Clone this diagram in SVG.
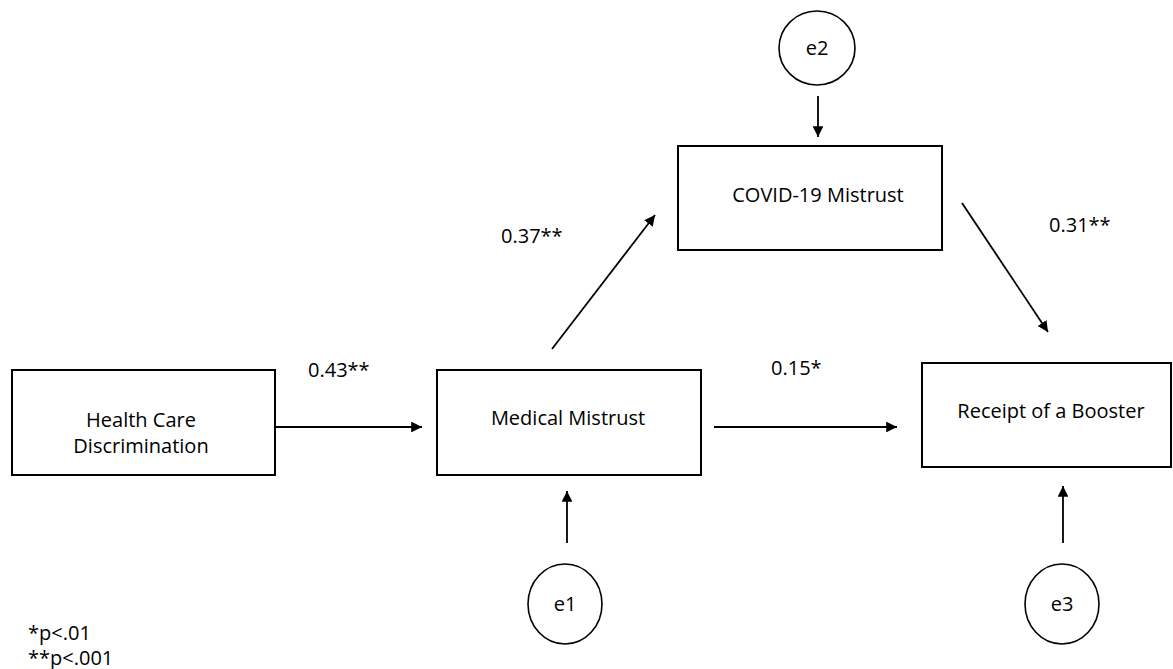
<svg xmlns="http://www.w3.org/2000/svg" width="1173" height="669" viewBox="0 0 1173 669">
  <style>
    .box { fill: #fff; stroke: #000; stroke-width: 2; }
    .err { fill: #fff; stroke: #000; stroke-width: 1.6; }
    .lbl { font-family: "Open Sans", "Liberation Sans", sans-serif; font-size: 20px; fill: #000; }
    .mid { text-anchor: middle; }
    .edge { stroke: #000; stroke-width: 1.8; fill: none; marker-end: url(#head); }
  </style>
  <defs>
    <marker id="head" viewBox="0 0 10 10" refX="10" refY="5" markerWidth="6" markerHeight="6" markerUnits="strokeWidth" orient="auto">
      <path d="M0,0 L10,5 L0,10 Z" fill="#000"/>
    </marker>
  </defs>

  <rect width="1173" height="669" fill="#fff"/>

  <!-- observed variables -->
  <g id="hcd">
    <rect class="box" x="12" y="370" width="263" height="105"/>
    <text class="lbl mid" x="141" y="427">Health Care</text>
    <text class="lbl mid" x="141" y="453">Discrimination</text>
  </g>
  <g id="medical-mistrust">
    <rect class="box" x="437" y="370" width="264" height="105"/>
    <text class="lbl mid" x="568" y="425">Medical Mistrust</text>
  </g>
  <g id="covid-mistrust">
    <rect class="box" x="678" y="146" width="264" height="104"/>
    <text class="lbl mid" x="818" y="202">COVID-19 Mistrust</text>
  </g>
  <g id="booster">
    <rect class="box" x="922" y="363" width="249" height="104"/>
    <text class="lbl mid" x="1051" y="418">Receipt of a Booster</text>
  </g>

  <!-- error terms -->
  <g id="e1">
    <ellipse class="err" cx="565" cy="604" rx="37" ry="40"/>
    <text class="lbl mid" x="565" y="611">e1</text>
  </g>
  <g id="e2">
    <ellipse class="err" cx="817" cy="48" rx="38" ry="37"/>
    <text class="lbl mid" x="817" y="55">e2</text>
  </g>
  <g id="e3">
    <ellipse class="err" cx="1062" cy="604" rx="37" ry="40"/>
    <text class="lbl mid" x="1062" y="611">e3</text>
  </g>

  <!-- paths -->
  <g id="connectors">
    <line class="edge" x1="275" y1="427" x2="422" y2="427"/>
    <line class="edge" x1="552" y1="349" x2="655" y2="215"/>
    <line class="edge" x1="714" y1="427" x2="897" y2="427"/>
    <line class="edge" x1="962" y1="203" x2="1048" y2="332"/>
    <line class="edge" x1="818" y1="96" x2="818" y2="137"/>
    <line class="edge" x1="567" y1="543" x2="567" y2="491"/>
    <line class="edge" x1="1063" y1="543" x2="1063" y2="486"/>
  </g>

  <!-- path coefficients -->
  <g id="coefficients">
    <text class="lbl" x="308" y="377">0.43**</text>
    <text class="lbl" x="501" y="243">0.37**</text>
    <text class="lbl" x="771" y="375">0.15*</text>
    <text class="lbl" x="1049" y="232">0.31**</text>
  </g>

  <!-- significance key -->
  <g id="legend">
    <text class="lbl" x="28" y="640">*p&lt;.01</text>
    <text class="lbl" x="28" y="665">**p&lt;.001</text>
  </g>
</svg>
